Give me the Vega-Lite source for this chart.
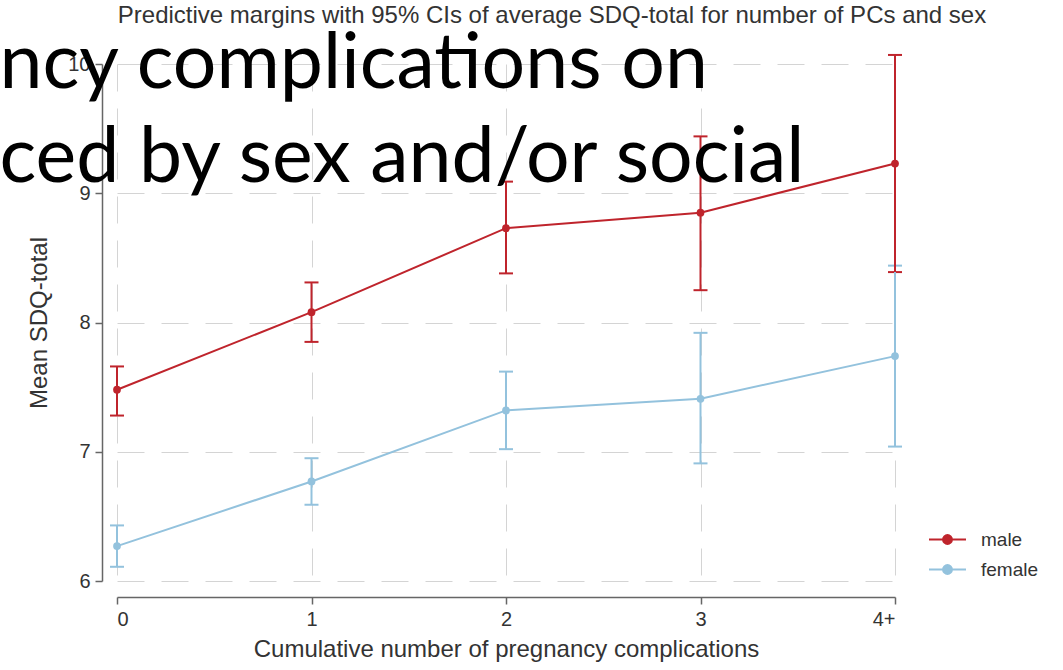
{
  "$schema": "https://vega.github.io/schema/vega-lite/v6.json",
  "width": 778,
  "height": 517,
  "autosize": {"type": "none"},
  "padding": {"left": 117, "top": 64, "right": 168, "bottom": 89},
  "background": "white",
  "title": {
    "text": "Predictive margins with 95% CIs of average SDQ-total for number of PCs and sex",
    "font": "Liberation Sans",
    "fontSize": 24,
    "fontWeight": "normal",
    "color": "#333333",
    "anchor": "middle",
    "frame": "group",
    "offset": -2,
    "dx": 46
  },
  "data": {
    "values": [
      {"pcs": 0, "sex": "female", "margin": 6.27, "lo": 6.11, "hi": 6.43},
      {"pcs": 1, "sex": "female", "margin": 6.77, "lo": 6.59, "hi": 6.95},
      {"pcs": 2, "sex": "female", "margin": 7.32, "lo": 7.02, "hi": 7.62},
      {"pcs": 3, "sex": "female", "margin": 7.41, "lo": 6.91, "hi": 7.92},
      {"pcs": 4, "sex": "female", "margin": 7.74, "lo": 7.04, "hi": 8.44},
      {"pcs": 0, "sex": "male", "margin": 7.48, "lo": 7.28, "hi": 7.66},
      {"pcs": 1, "sex": "male", "margin": 8.08, "lo": 7.85, "hi": 8.31},
      {"pcs": 2, "sex": "male", "margin": 8.73, "lo": 8.38, "hi": 9.09},
      {"pcs": 3, "sex": "male", "margin": 8.85, "lo": 8.25, "hi": 9.44},
      {"pcs": 4, "sex": "male", "margin": 9.23, "lo": 8.39, "hi": 10.07}
    ]
  },
  "layer": [
    {
      "mark": {
        "type": "errorbar",
        "ticks": {"size": 14, "opacity": 1},
        "rule": {"opacity": 1},
        "thickness": 2
      },
      "encoding": {
        "x": {
          "field": "pcs",
          "type": "quantitative",
          "scale": {"domain": [0, 4], "nice": false, "zero": false},
          "axis": {
            "values": [0, 1, 2, 3, 4],
            "format": "d",
            "labelExpr": "datum.value == 4 ? '4+' : datum.label",
            "offset": 16,
            "title": "Cumulative number of pregnancy complications",
            "titlePadding": 8
          }
        },
        "y": {
          "field": "lo",
          "type": "quantitative",
          "scale": {"domain": [6, 10], "nice": false, "zero": false},
          "axis": {
            "values": [6, 7, 8, 9, 10],
            "format": "d",
            "offset": 15,
            "title": "Mean SDQ-total",
            "titlePadding": 16
          }
        },
        "y2": {"field": "hi"},
        "color": {
          "field": "sex",
          "type": "nominal",
          "scale": {"domain": ["male", "female"], "range": ["#bf242c", "#93c2dd"]},
          "legend": {
            "title": null,
            "orient": "none",
            "legendX": 811,
            "legendY": 456,
            "symbolType": "M-1,0H1M0.24,0A0.24,0.24,0,1,1,-0.24,0A0.24,0.24,0,1,1,0.24,0",
            "symbolSize": 1369,
            "symbolStrokeWidth": 2,
            "labelFont": "Liberation Sans",
            "labelFontSize": 19,
            "labelColor": "#333333",
            "labelOffset": 14,
            "rowPadding": 0,
            "encode": {
              "symbols": {
                "update": {
                  "fill": {"scale": "color", "field": "value"},
                  "stroke": {"scale": "color", "field": "value"}
                }
              }
            }
          }
        }
      }
    },
    {
      "mark": {
        "type": "line",
        "strokeWidth": 2,
        "point": {"filled": true, "size": 60}
      },
      "encoding": {
        "x": {"field": "pcs", "type": "quantitative"},
        "y": {"field": "margin", "type": "quantitative"},
        "color": {"field": "sex", "type": "nominal"}
      }
    },
    {
      "data": {"values": [{"line": "ncy complications on"}]},
      "mark": {
        "type": "text",
        "align": "left",
        "baseline": "alphabetic",
        "font": "Lato",
        "fontSize": 77,
        "color": "#000000"
      },
      "encoding": {
        "x": {"datum": -0.604},
        "y": {"datum": 9.815},
        "text": {"field": "line", "type": "nominal"}
      }
    },
    {
      "data": {"values": [{"line": "ced by sex and/or social"}]},
      "mark": {
        "type": "text",
        "align": "left",
        "baseline": "alphabetic",
        "font": "Lato",
        "fontSize": 77,
        "color": "#000000"
      },
      "encoding": {
        "x": {"datum": -0.604},
        "y": {"datum": 9.088},
        "text": {"field": "line", "type": "nominal"}
      }
    }
  ],
  "config": {
    "view": {"stroke": null},
    "axis": {
      "domainColor": "#666666",
      "domainWidth": 1.5,
      "tickColor": "#666666",
      "tickSize": 7,
      "tickWidth": 1.5,
      "labelFont": "Liberation Sans",
      "labelFontSize": 20,
      "labelColor": "#333333",
      "labelPadding": 5,
      "titleFont": "Liberation Sans",
      "titleFontSize": 24,
      "titleFontWeight": "normal",
      "titleColor": "#333333",
      "grid": true,
      "gridColor": "#d4d4d4",
      "gridDash": [27, 17],
      "gridWidth": 1
    },
    "axisY": {"labelAngle": 0}
  }
}
